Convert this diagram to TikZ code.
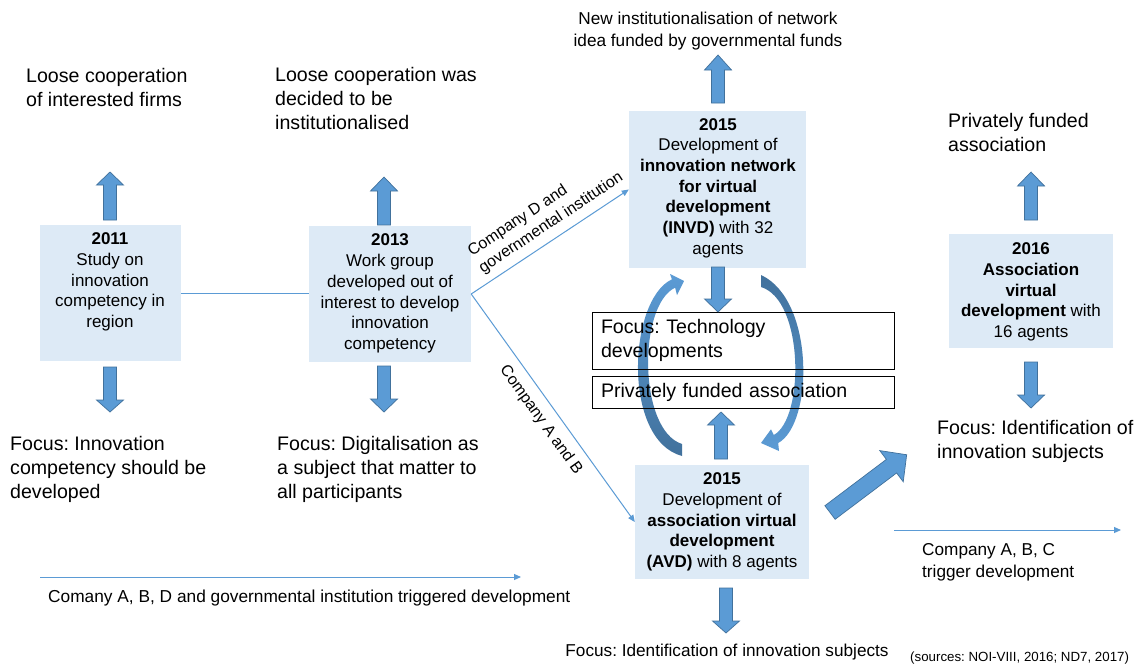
\documentclass[tikz,border=0pt]{standalone}
\usepackage{fontspec}
\setmainfont{Liberation Sans}
\usetikzlibrary{arrows.meta}
\frenchspacing

\definecolor{boxblue}{RGB}{221,234,246}
\definecolor{arrowblue}{RGB}{91,155,213}
\definecolor{arrowedge}{RGB}{65,113,156}
\definecolor{linkblue}{RGB}{91,155,213}

% block arrow: #1 tail point, #2 direction angle, #3 length,
% #4 half shaft width, #5 half head width, #6 head length
\newcommand\blockarrow[6]{%
  \begin{scope}[shift={#1},rotate=#2]
    \filldraw[blockarrow] (0,-#4) -- ({#3-#6},-#4) -- ({#3-#6},-#5) -- (#3,0)
      -- ({#3-#6},#5) -- ({#3-#6},#4) -- (0,#4) -- cycle;
  \end{scope}}

\begin{document}
\begin{tikzpicture}[x=1pt,y=-1pt,
  bluebox/.style={fill=boxblue, draw=none, inner sep=0pt},
  boxtext/.style={align=center, inner sep=0pt, font=\fontsize{17}{20.7}\selectfont},
  bigtext/.style={align=left, inner sep=0pt, anchor=west, font=\fontsize{19.6}{24}\selectfont},
  midtext/.style={inner sep=0pt, font=\fontsize{17.2}{22}\selectfont},
  focusbox/.style={draw=black, line width=0.8pt, inner xsep=9pt, inner ysep=0pt,
    minimum width=302pt, text width=284pt, align=left, font=\fontsize{19.6}{24}\selectfont},
  link/.style={draw=linkblue, line width=1pt},
  linkarrow/.style={link, -{Triangle[length=7pt,width=6pt]}},
  linklabel/.style={inner sep=3pt, font=\fontsize{16}{20}\selectfont},
  blockarrow/.style={fill=arrowblue, draw=arrowedge, line width=0.7pt},
]
\useasboundingbox[fill=white] (0,0) rectangle (1147,664);

% ---- milestone boxes
\node[bluebox, minimum width=141pt, minimum height=136pt] (y2011) at (110.5,293) {};
\node[boxtext] (y2011t) at (110,282) {\textbf{2011}\\Study on\\innovation\\competency in\\region};

\node[bluebox, minimum width=162pt, minimum height=136pt] (y2013) at (390,294) {};
\node[boxtext] (y2013t) at (390,293.5) {\textbf{2013}\\Work group\\developed out of\\interest to develop\\innovation\\competency};

\node[bluebox, minimum width=177pt, minimum height=157pt] (invd) at (717.5,189.5) {};
\node[boxtext] (invdt) at (718,188) {\textbf{2015}\\Development of\\\textbf{innovation network}\\\textbf{for virtual}\\\textbf{development}\\\textbf{(INVD)} with 32\\agents};

\node[bluebox, minimum width=174pt, minimum height=114pt] (avd) at (722,522) {};
\node[boxtext] (avdt) at (722,522) {\textbf{2015}\\Development of\\\textbf{association virtual}\\\textbf{development}\\\textbf{(AVD)} with 8 agents};

\node[bluebox, minimum width=164pt, minimum height=114pt] (y2016) at (1031,291) {};
\node[boxtext] (y2016t) at (1031,292) {\textbf{2016}\\\textbf{Association}\\\textbf{virtual}\\\textbf{development} with\\16 agents};

% ---- free texts
\node[bigtext] (loose1) at (26,87) {Loose cooperation\\of interested firms};
\node[bigtext] (loose2) at (275,98.5) {Loose cooperation was\\decided to be\\institutionalised};
\node[bigtext] (priv) at (948,132) {Privately funded\\association};
\node[bigtext] (focus1) at (10,469) {Focus: Innovation\\competency should be\\developed};
\node[bigtext] (focus2) at (277,469) {Focus: Digitalisation as\\a subject that matter to\\all participants};
\node[bigtext] (focus3) at (937,441.5) {Focus: Identification of\\innovation subjects};
\node[midtext, align=center] (newinst) at (708,31) {New institutionalisation of network\\idea funded by governmental funds};
\node[midtext] (focus4) at (727,652) {Focus: Identification of innovation subjects};
\node[inner sep=0pt, anchor=west, font=\fontsize{13.3}{16}\selectfont] (src) at (910,658) {(sources: NOI-VIII, 2016; ND7, 2017)};
\node[midtext, anchor=west, font=\fontsize{17.3}{22}\selectfont] (trig1) at (48,598) {Comany A, B, D and governmental institution triggered development};
\node[midtext, anchor=west, align=left] (trig2) at (922,562) {Company A, B, C\\trigger development};

% ---- cycle between the two 2015 structures
\shade[top color=arrowblue, bottom color=arrowedge]
  (682,456) .. controls (622,440) and (628,300) .. (671.9,279.3) -- (670,274) -- (684,281)
  -- (677,295) -- (675.1,287.7) .. controls (638,305) and (638,430) .. (682,444) -- cycle;
\shade[top color=arrowedge, bottom color=arrowblue]
  (761,275) .. controls (815,300) and (813.4,423.8) .. (778.2,443) -- (779,451)
  -- (761,443) -- (771,429.3) -- (773.8,435) .. controls (804.6,418.2) and (804,300) .. (761,287) -- cycle;

% ---- focus boxes of the 2015 structures
\node[focusbox, minimum height=57pt] (tech) at (743,340.5) {Focus: Technology\\developments};
\node[focusbox, minimum height=32pt] (pfa) at (743,392) {Privately funded association};

% ---- block arrows
\blockarrow{(110,220)}{90}{48}{6.5}{13.5}{13}
\blockarrow{(110,367)}{-90}{45}{6.5}{13.5}{12}
\blockarrow{(384,225)}{90}{48}{6.5}{13.5}{14}
\blockarrow{(384,366)}{-90}{46}{6.5}{13.5}{13}
\blockarrow{(718,103)}{90}{48}{6.5}{13.5}{15}
\blockarrow{(718,267)}{-90}{45}{6.5}{13.5}{13}
\blockarrow{(721,459)}{90}{47}{6.5}{13.5}{13}
\blockarrow{(726,588)}{-90}{45}{6.5}{13.5}{12}
\blockarrow{(1031,220)}{90}{48}{6.5}{13.5}{14}
\blockarrow{(1031,362)}{-90}{46}{6.5}{13.5}{13}
\blockarrow{(830,512.5)}{37}{96}{8.5}{19.5}{19}

% ---- thin connectors
\draw[link] (y2011.east) -- (y2011.east -| y2013.west);
\draw[linkarrow] (y2013.east) -- node[linklabel, sloped, above=4pt, align=left, pos=0.56]
  {Company D and\\governmental institution} (invd.west);
\draw[linkarrow] (y2013.east) -- node[linklabel, sloped, below=6pt, pos=0.51]
  {Company A and B} (avd.west);

\coordinate (b1) at (40,577);
\coordinate (b2) at (521,577);
\draw[linkarrow] (b1) -- (b2);
\coordinate (r1) at (894,530);
\coordinate (r2) at (1121,530);
\draw[linkarrow] (r1) -- (r2);
\end{tikzpicture}
\end{document}
